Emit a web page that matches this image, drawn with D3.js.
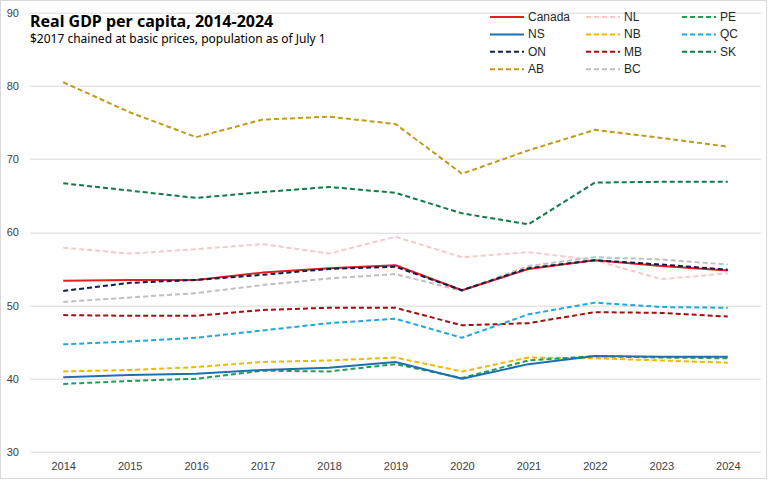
<!DOCTYPE html>
<html lang="en">
<head>
<meta charset="utf-8">
<title>Real GDP per capita</title>
<style>
body{
  margin: 0;
  background: #fff;
}
.axis text{
  font: 11px "Liberation Sans", Arial, sans-serif;
  fill: #404040;
}
.axis path, .axis line{
  display: none;
}
.grid line{
  stroke: #d9d9d9;
  stroke-width: 1;
}
.legend text{
  font: 12px "Liberation Sans", Arial, sans-serif;
  fill: #262626;
}
</style>
</head>
<body>
<div id="chart"></div>
<script src="https://d3js.org/d3.v7.min.js"></script>
<script>
var years = ["2014","2015","2016","2017","2018","2019","2020","2021","2022","2023","2024"];
var yTicks = [30, 40, 50, 60, 70, 80, 90];

var canada = [53.4, 53.5, 53.5, 54.5, 55.1, 55.5, 52.1, 55.0, 56.2, 55.4, 54.8];
var nl = [57.9, 57.1, 57.7, 58.4, 57.1, 59.4, 56.6, 57.3, 56.2, 53.6, 54.4];
var pe = [39.3, 39.7, 40.0, 41.1, 41.0, 42.0, 40.1, 42.5, 43.1, 42.9, 42.8];
var ns = [40.2, 40.5, 40.7, 41.2, 41.5, 42.3, 40.0, 42.0, 43.1, 43.0, 43.0];
var nb = [41.0, 41.2, 41.6, 42.3, 42.5, 42.9, 41.0, 42.9, 42.8, 42.5, 42.2];
var qc = [44.7, 45.1, 45.6, 46.6, 47.6, 48.2, 45.6, 48.8, 50.4, 49.8, 49.7];
var on = [52.0, 53.1, 53.5, 54.2, 55.0, 55.3, 52.1, 55.1, 56.2, 55.6, 54.9];
var mb = [48.7, 48.6, 48.6, 49.4, 49.7, 49.7, 47.3, 47.6, 49.1, 49.0, 48.5];
var sk = [66.7, 65.7, 64.7, 65.5, 66.2, 65.4, 62.6, 61.1, 66.8, 66.9, 66.9];
var ab = [80.5, 76.4, 73.0, 75.4, 75.8, 74.8, 68.0, 71.2, 74.0, 72.9, 71.7];
var bc = [50.5, 51.1, 51.7, 52.8, 53.7, 54.3, 52.0, 55.4, 56.6, 56.3, 55.6];

// legend order (row by row)
var series = [
  {name: "Canada", values: canada, color: "#e41e1e", dash: null},
  {name: "NL", values: nl, color: "#f6c9c9", dash: "5,3"},
  {name: "PE", values: pe, color: "#1f9e55", dash: "5,3"},
  {name: "NS", values: ns, color: "#1f6fb0", dash: null},
  {name: "NB", values: nb, color: "#f2b800", dash: "5,3"},
  {name: "QC", values: qc, color: "#1ea8e0", dash: "5,3"},
  {name: "ON", values: on, color: "#0f1f4d", dash: "5,3"},
  {name: "MB", values: mb, color: "#a50f10", dash: "5,3"},
  {name: "SK", values: sk, color: "#137a45", dash: "5,3"},
  {name: "AB", values: ab, color: "#c09a18", dash: "5,3"},
  {name: "BC", values: bc, color: "#bfbfbf", dash: "5,3"}
];
// drawing order, so the solid lines end up on top
var drawOrder = ["NL","BC","AB","SK","MB","QC","NB","PE","NS","Canada","ON"];

var W = 769, H = 481;
var svg = d3.select("#chart").append("svg")
  .attr("width", W)
  .attr("height", H);

svg.append("rect")
  .attr("x", 0.5).attr("y", 0.5)
  .attr("width", W - 3).attr("height", H - 3)
  .attr("fill", "#fff")
  .attr("stroke", "#d9d9d9");

var margin = {top: 12.7, right: 8, bottom: 29, left: 30};
var width = 761 - margin.left;
var height = 452 - margin.top;

var graph = svg.append("g")
  .attr("transform", `translate(${margin.left}, ${margin.top})`);

var x = d3.scalePoint()
  .domain(years)
  .range([0, width])
  .padding(0.5);
var y = d3.scaleLinear()
  .domain([30, 90])
  .range([height, 0]);

graph.append("g").attr("class", "grid")
  .selectAll("line").data(yTicks)
  .enter().append("line")
  .attr("x1", 0).attr("x2", width)
  .attr("y1", (d) => Math.round(y(d)) + 0.5)
  .attr("y2", (d) => Math.round(y(d)) + 0.5);

var yAxis = graph.append("g").attr("class", "axis")
  .call(d3.axisLeft(y).tickValues(yTicks).tickSize(0).tickPadding(11));
var xAxis = graph.append("g").attr("class", "axis")
  .attr("transform", `translate(0, ${height})`)
  .call(d3.axisBottom(x).tickSize(0).tickPadding(10));

var line = d3.line()
  .x((d, i) => x(years[i]))
  .y((d) => y(d));

drawOrder.forEach((name) => {
  var s = series.find((d) => d.name === name);
  graph.append("path")
    .datum(s.values)
    .attr("fill", "none")
    .attr("stroke", s.color)
    .attr("stroke-width", 2)
    .attr("stroke-dasharray", s.dash)
    .attr("stroke-linejoin", "round")
    .attr("d", line);
});

// title
svg.append("text")
  .attr("x", 30).attr("y", 27)
  .style("font", "bold 16px 'Noto Sans', sans-serif")
  .style("fill", "#000")
  .text("Real GDP per capita, 2014-2024");
svg.append("text")
  .attr("x", 30).attr("y", 43)
  .style("font", "12px 'Noto Sans', sans-serif")
  .style("fill", "#000")
  .text("$2017 chained at basic prices, population as of July 1");

// legend
var legend = svg.append("g").attr("class", "legend");
var colX = [490, 586, 682];
series.forEach((s, i) => {
  var cx = colX[i % 3];
  var cy = 17 + Math.floor(i / 3) * 17.4;
  var g = legend.append("g").attr("transform", `translate(${cx}, ${cy})`);
  g.append("line")
    .attr("x1", 0).attr("x2", 34)
    .attr("stroke", s.color)
    .attr("stroke-width", 2)
    .attr("stroke-dasharray", s.dash);
  g.append("text")
    .attr("x", 38).attr("y", 4)
    .text(s.name);
});
</script>
</body>
</html>
